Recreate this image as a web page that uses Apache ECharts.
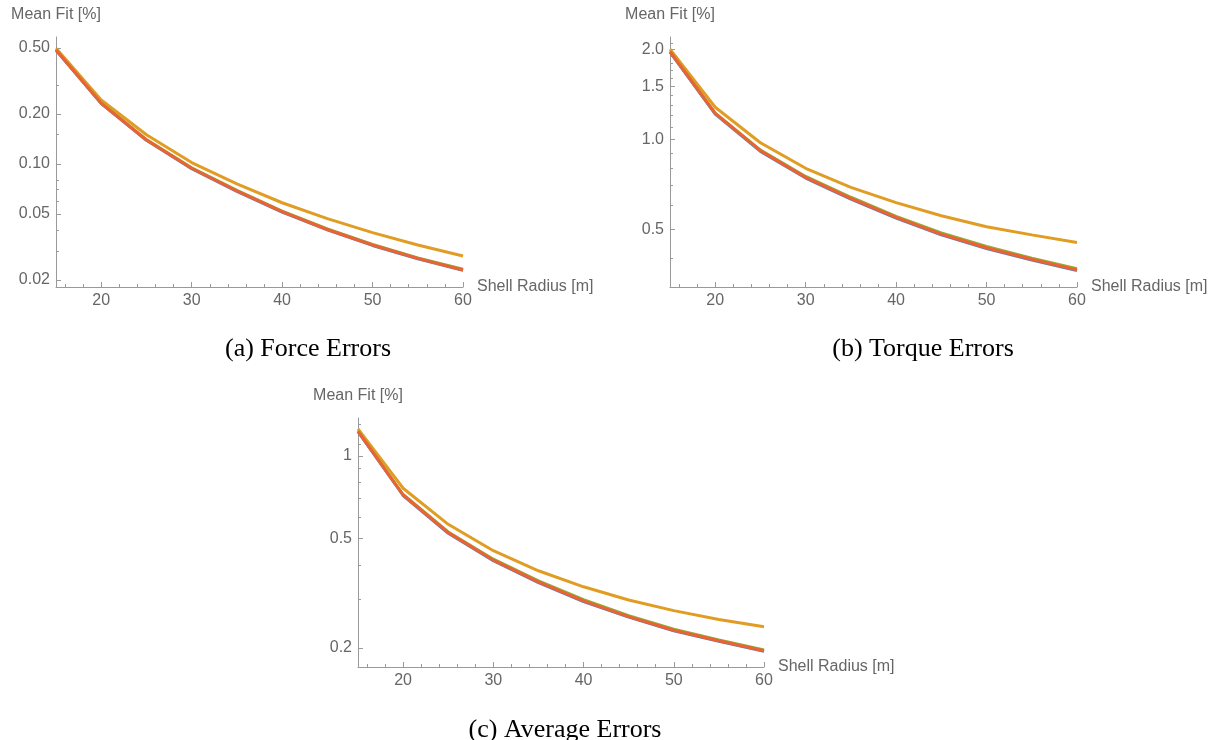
<!DOCTYPE html>
<html><head><meta charset="utf-8">
<script src="https://cdn.jsdelivr.net/npm/echarts@6/dist/echarts.min.js"></script>
<style>html,body{margin:0;padding:0;background:#fff}#c{width:1214px;height:740px}</style>
</head><body><div id="c"></div>
<script>
// ---- data ----
const radius = [15, 20, 25, 30, 35, 40, 45, 50, 55, 60];

const forceBlue   = [0.484, 0.231, 0.1388, 0.0937, 0.0684, 0.0513, 0.0401, 0.0323, 0.0268, 0.0229];
const forceOrange = [0.498, 0.243, 0.150, 0.102, 0.0758, 0.0584, 0.0469, 0.0386, 0.0325, 0.0279];
const forceGreen  = [0.487, 0.233, 0.1402, 0.0948, 0.0693, 0.0520, 0.0406, 0.0328, 0.0272, 0.0232];
const forceRed    = [0.486, 0.232, 0.1395, 0.0942, 0.0688, 0.0516, 0.0403, 0.0325, 0.0270, 0.0230];

const torqueBlue   = [1.955, 1.214, 0.911, 0.742, 0.631, 0.545, 0.479, 0.431, 0.395, 0.364];
const torqueOrange = [2.00, 1.28, 0.974, 0.800, 0.691, 0.614, 0.555, 0.510, 0.479, 0.452];
const torqueGreen  = [1.968, 1.224, 0.920, 0.751, 0.640, 0.552, 0.486, 0.438, 0.400, 0.369];
const torqueRed    = [1.963, 1.22, 0.916, 0.746, 0.635, 0.548, 0.482, 0.434, 0.397, 0.366];

const avgBlue   = [1.226, 0.718, 0.523, 0.416, 0.346, 0.295, 0.259, 0.231, 0.2115, 0.1945];
const avgOrange = [1.255, 0.763, 0.564, 0.452, 0.382, 0.334, 0.299, 0.2735, 0.254, 0.239];
const avgGreen  = [1.233, 0.724, 0.529, 0.421, 0.351, 0.300, 0.262, 0.234, 0.2140, 0.1968];
const avgRed    = [1.230, 0.721, 0.526, 0.418, 0.348, 0.297, 0.260, 0.232, 0.2126, 0.1954];

const xMajorTicks = [20, 30, 40, 50, 60];
const xMinorTicks = [16, 18, 22, 24, 26, 28, 32, 34, 36, 38, 42, 44, 46, 48, 52, 54, 56, 58];

const forceTickValues  = [0.02, 0.05, 0.1, 0.2, 0.5];
const forceTickLabels  = ['0.02', '0.05', '0.10', '0.20', '0.50'];
const forceMinorTicks  = [0.03, 0.04, 0.06, 0.07, 0.08, 0.15, 0.3];
const torqueTickValues = [0.5, 1.0, 1.5, 2.0];
const torqueTickLabels = ['0.5', '1.0', '1.5', '2.0'];
const torqueMinorTicks = [0.4, 0.6, 0.7, 0.8, 0.9, 1.1, 1.2, 1.3, 1.4, 1.6, 1.7, 1.8, 1.9, 2.1];
const avgTickValues    = [0.2, 0.5, 1];
const avgTickLabels    = ['0.2', '0.5', '1'];
const avgMinorTicks    = [0.3, 0.4, 0.6, 0.7, 0.8, 0.9, 1.1, 1.2, 1.3];

const captions = ['(a) Force Errors', '(b) Torque Errors', '(c) Average Errors'];
const xName = 'Shell Radius [m]';
const yName = 'Mean Fit [%]';

// ---- layout / style ----
const SANS = 'Liberation Sans, Arial, sans-serif';
const SERIF = 'Liberation Serif, Times New Roman, serif';
const AXIS_COLOR = '#9a9a9a';
const LABEL_COLOR = '#666666';
const colors = { blue: '#5E81B5', orange: '#E19C24', green: '#8FB032', red: '#EB6235' };

const panels = [
  { grid: { left: 56, top: 37, width: 407, height: 250 }, yMin: 0.01815, yMax: 0.582,
    ticks: forceTickValues, labels: forceTickLabels, minor: forceMinorTicks,
    series: [forceBlue, forceOrange, forceGreen, forceRed],
    caption: { x: 303, y: 331 } },
  { grid: { left: 670, top: 37, width: 407, height: 250 }, yMin: 0.3207, yMax: 2.198,
    ticks: torqueTickValues, labels: torqueTickLabels, minor: torqueMinorTicks,
    series: [torqueBlue, torqueOrange, torqueGreen, torqueRed],
    caption: { x: 918, y: 331 } },
  { grid: { left: 358, top: 418, width: 406, height: 249 }, yMin: 0.1705, yMax: 1.375,
    ticks: avgTickValues, labels: avgTickLabels, minor: avgMinorTicks,
    series: [avgBlue, avgOrange, avgGreen, avgRed],
    caption: { x: 560, y: 712 } }
];
const seriesColors = [colors.blue, colors.orange, colors.green, colors.red];

const option = { animation: false, backgroundColor: '#fff', grid: [], xAxis: [], yAxis: [], series: [], title: [] };

panels.forEach((p, i) => {
  option.grid.push(p.grid);
  option.xAxis.push({
    type: 'value', gridIndex: i, min: 15, max: 60, position: 'bottom',
    name: xName, nameLocation: 'end', nameGap: 14,
    nameTextStyle: { color: LABEL_COLOR, fontSize: 16, fontFamily: SANS, align: 'left', verticalAlign: 'middle', padding: [0, 0, 4, 0] },
    axisLine: { show: true, onZero: false, lineStyle: { color: AXIS_COLOR, width: 1 } },
    axisTick: { show: true, inside: true, length: 5, customValues: xMajorTicks, lineStyle: { color: AXIS_COLOR } },
    axisLabel: { customValues: xMajorTicks, color: LABEL_COLOR, fontSize: 16, fontFamily: SANS, margin: 6 },
    splitLine: { show: false }
  });
  option.xAxis.push({
    type: 'value', gridIndex: i, min: 15, max: 60, position: 'bottom',
    axisLine: { show: false, onZero: false },
    axisTick: { show: true, inside: true, length: 3, customValues: xMinorTicks, lineStyle: { color: AXIS_COLOR } },
    axisLabel: { show: false },
    splitLine: { show: false }
  });
  const vals = p.ticks, labs = p.labels;
  option.yAxis.push({
    type: 'log', logBase: 10, gridIndex: i, min: p.yMin, max: p.yMax, position: 'left',
    name: yName, nameLocation: 'end', nameGap: 14,
    nameTextStyle: { color: LABEL_COLOR, fontSize: 16, fontFamily: SANS, align: 'center' },
    axisLine: { show: true, onZero: false, lineStyle: { color: AXIS_COLOR, width: 1 } },
    axisTick: { show: true, inside: true, length: 5, customValues: vals, lineStyle: { color: AXIS_COLOR } },
    axisLabel: {
      customValues: vals, color: LABEL_COLOR, fontSize: 16, fontFamily: SANS, margin: 6,
      formatter: function (v) {
        for (let k = 0; k < vals.length; k++) {
          if (Math.abs(v - vals[k]) < 1e-6 * vals[k]) return labs[k];
        }
        return '';
      }
    },
    splitLine: { show: false }
  });
  option.yAxis.push({
    type: 'log', logBase: 10, gridIndex: i, min: p.yMin, max: p.yMax, position: 'left',
    axisLine: { show: false, onZero: false },
    axisTick: { show: true, inside: true, length: 3, customValues: p.minor, lineStyle: { color: AXIS_COLOR } },
    axisLabel: { show: false },
    splitLine: { show: false }
  });
  p.series.forEach((arr, k) => {
    option.series.push({
      type: 'line', xAxisIndex: 2 * i, yAxisIndex: 2 * i,
      data: radius.map((x, j) => [x, arr[j]]),
      showSymbol: false, symbol: 'none',
      lineStyle: { color: seriesColors[k], width: 3 },
      itemStyle: { color: seriesColors[k] },
      z: 2 + k
    });
  });
  option.title.push({
    text: captions[i], left: p.caption.x, top: p.caption.y, textAlign: 'center',
    textStyle: { fontFamily: SERIF, fontSize: 26, fontWeight: 'normal', color: '#000' }
  });
});

const chart = echarts.init(document.getElementById('c'), null, { renderer: 'canvas' });
chart.setOption(option);
</script></body></html>
